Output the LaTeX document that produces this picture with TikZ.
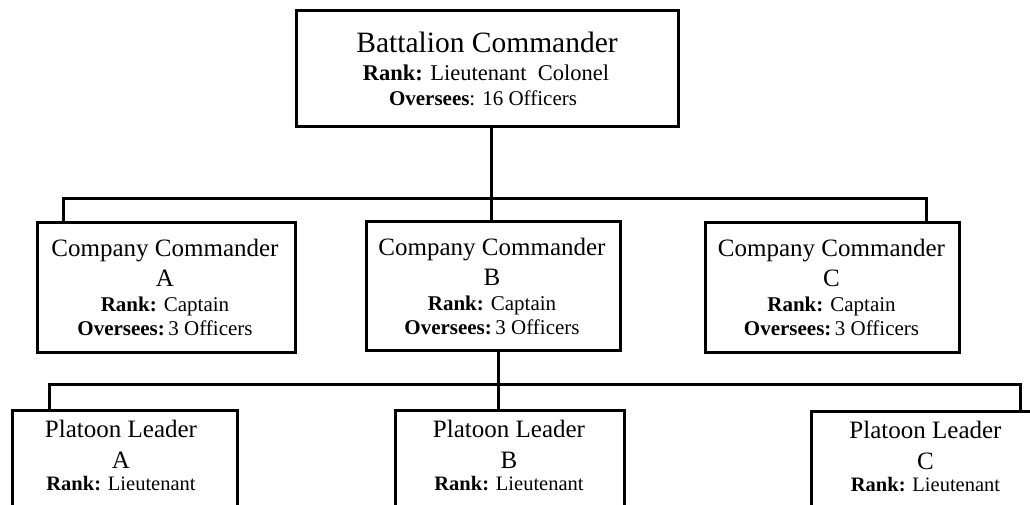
\documentclass[tikz,border=0pt]{standalone}
\usepackage{fontspec}
\setmainfont{Liberation Serif}
\begin{document}
\begin{tikzpicture}[x=1pt,y=-1pt,
  box/.style={draw=black, line width=3pt, rectangle, inner sep=0pt},
  conn/.style={draw=black, line width=3pt},
  tbat/.style={anchor=base, inner sep=0pt, font=\fontsize{29.5}{32}\selectfont},
  tbatsub/.style={anchor=base, inner sep=0pt, font=\fontsize{22.5}{25}\selectfont},
  tbatov/.style={anchor=base, inner sep=0pt, font=\fontsize{21}{24}\selectfont},
  ttitle/.style={anchor=base, inner sep=0pt, font=\fontsize{25}{28}\selectfont},
  tsub/.style={anchor=base, inner sep=0pt, font=\fontsize{21}{24}\selectfont},
  tpsub/.style={anchor=base, inner sep=0pt, font=\fontsize{20.5}{24}\selectfont}
]
\useasboundingbox (0,0) rectangle (1030,504);
\clip (0,0) rectangle (1030,504);
\fill[white] (0,0) rectangle (1030,504);

% Battalion
\node[box, minimum width=382pt, minimum height=116pt] (bat) at (487,68) {};
\node[tbat] (bat1) at (487,52) {Battalion Commander};
\node[tbatsub] (bat2) at (486,80) {\textbf{Rank:} Lieutenant\ \ Colonel};
\node[tbatov] (bat3) at (483,105) {\textbf{Oversees}: 16 Officers};

% Companies
\node[box, minimum width=258pt, minimum height=130pt] (ca) at (166,287) {};
\node[ttitle] (ca1) at (165,256) {Company Commander};
\node[ttitle] (ca2) at (165,286) {A};
\node[tsub] (ca3) at (165,311) {\textbf{Rank:} Captain};
\node[tsub] (ca4) at (165,335) {\textbf{Oversees:}\,3 Officers};

\node[box, minimum width=254pt, minimum height=129pt] (cb) at (493,285.5) {};
\node[ttitle] (cb1) at (492,255) {Company Commander};
\node[ttitle] (cb2) at (492,285) {B};
\node[tsub] (cb3) at (492,310) {\textbf{Rank:} Captain};
\node[tsub] (cb4) at (492,334) {\textbf{Oversees:}\,3 Officers};

\node[box, minimum width=254pt, minimum height=130pt] (cc) at (832,287) {};
\node[ttitle] (cc1) at (831.5,256) {Company Commander};
\node[ttitle] (cc2) at (831.5,286) {C};
\node[tsub] (cc3) at (831.5,311) {\textbf{Rank:} Captain};
\node[tsub] (cc4) at (831.5,335) {\textbf{Oversees:}\,3 Officers};

% Platoons
\node[box, minimum width=225pt, minimum height=130pt] (pa) at (124.5,475) {};
\node[ttitle] (pa1) at (121,437) {Platoon Leader};
\node[ttitle] (pa2) at (121,468) {A};
\node[tpsub] (pa3) at (121,490) {\textbf{Rank:} Lieutenant};

\node[box, minimum width=229pt, minimum height=130pt] (pb) at (509.5,475) {};
\node[ttitle] (pb1) at (509,437) {Platoon Leader};
\node[ttitle] (pb2) at (509,468) {B};
\node[tpsub] (pb3) at (509,490) {\textbf{Rank:} Lieutenant};

\node[box, minimum width=229pt, minimum height=130pt] (pc) at (925.5,476) {};
\node[ttitle] (pc1) at (925.5,438) {Platoon Leader};
\node[ttitle] (pc2) at (925.5,469) {C};
\node[tpsub] (pc3) at (925.5,491) {\textbf{Rank:} Lieutenant};

% Junctions
\coordinate (j1) at (491.5,198);
\coordinate (jl) at (63,198);
\coordinate (jr) at (926,198);
\coordinate (j2) at (498,384);
\coordinate (kl) at (49,384);
\coordinate (kr) at (1020,384);

% Connectors
\draw[conn] (bat.south -| j1) -- (cb.north -| j1);
\draw[conn] (ca.north -| jl) |- (jr) -- (cc.north -| jr);
\draw[conn] (cb.south -| j2) -- (pb.north -| j2);
\draw[conn] (pa.north -| kl) |- (kr) -- (pc.north -| kr);
\end{tikzpicture}
\end{document}
